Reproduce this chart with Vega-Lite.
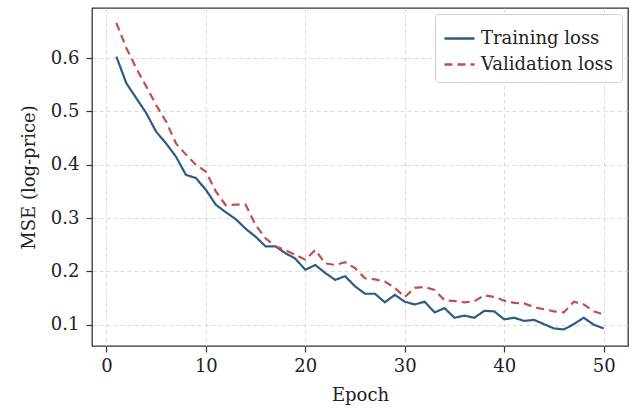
{
  "$schema": "https://vega.github.io/schema/vega-lite/v6.json",
  "width": 536,
  "height": 338,
  "autosize": "none",
  "padding": {"left": 92, "top": 8, "right": 8, "bottom": 62},
  "background": "white",
  "config": {
    "font": "DejaVu Serif",
    "view": {"stroke": "#333333", "strokeWidth": 1.3},
    "axis": {
      "labelFont": "DejaVu Serif",
      "titleFont": "DejaVu Serif",
      "labelFontSize": 18,
      "titleFontSize": 18,
      "titleFontWeight": "normal",
      "labelColor": "#222222",
      "titleColor": "#222222",
      "domain": false,
      "tickColor": "#333333",
      "tickSize": 6,
      "tickWidth": 1.2,
      "grid": true,
      "gridColor": "#d0d0d0",
      "gridDash": [4, 3],
      "gridWidth": 0.8
    },
    "legend": {
      "labelFont": "DejaVu Serif",
      "labelFontSize": 18,
      "labelColor": "#222222"
    }
  },
  "data": {
    "values": [
      {"epoch": 1, "Training loss": 0.603, "Validation loss": 0.666},
      {"epoch": 2, "Training loss": 0.553, "Validation loss": 0.619},
      {"epoch": 3, "Training loss": 0.525, "Validation loss": 0.581},
      {"epoch": 4, "Training loss": 0.497, "Validation loss": 0.547},
      {"epoch": 5, "Training loss": 0.462, "Validation loss": 0.512},
      {"epoch": 6, "Training loss": 0.440, "Validation loss": 0.481},
      {"epoch": 7, "Training loss": 0.415, "Validation loss": 0.440},
      {"epoch": 8, "Training loss": 0.381, "Validation loss": 0.419},
      {"epoch": 9, "Training loss": 0.375, "Validation loss": 0.400},
      {"epoch": 10, "Training loss": 0.353, "Validation loss": 0.387},
      {"epoch": 11, "Training loss": 0.325, "Validation loss": 0.350},
      {"epoch": 12, "Training loss": 0.311, "Validation loss": 0.324},
      {"epoch": 13, "Training loss": 0.298, "Validation loss": 0.325},
      {"epoch": 14, "Training loss": 0.280, "Validation loss": 0.325},
      {"epoch": 15, "Training loss": 0.265, "Validation loss": 0.287},
      {"epoch": 16, "Training loss": 0.247, "Validation loss": 0.262},
      {"epoch": 17, "Training loss": 0.247, "Validation loss": 0.247},
      {"epoch": 18, "Training loss": 0.234, "Validation loss": 0.240},
      {"epoch": 19, "Training loss": 0.224, "Validation loss": 0.231},
      {"epoch": 20, "Training loss": 0.203, "Validation loss": 0.222},
      {"epoch": 21, "Training loss": 0.212, "Validation loss": 0.240},
      {"epoch": 22, "Training loss": 0.197, "Validation loss": 0.215},
      {"epoch": 23, "Training loss": 0.184, "Validation loss": 0.212},
      {"epoch": 24, "Training loss": 0.191, "Validation loss": 0.217},
      {"epoch": 25, "Training loss": 0.172, "Validation loss": 0.206},
      {"epoch": 26, "Training loss": 0.158, "Validation loss": 0.187},
      {"epoch": 27, "Training loss": 0.158, "Validation loss": 0.185},
      {"epoch": 28, "Training loss": 0.142, "Validation loss": 0.181},
      {"epoch": 29, "Training loss": 0.156, "Validation loss": 0.169},
      {"epoch": 30, "Training loss": 0.143, "Validation loss": 0.152},
      {"epoch": 31, "Training loss": 0.138, "Validation loss": 0.169},
      {"epoch": 32, "Training loss": 0.143, "Validation loss": 0.171},
      {"epoch": 33, "Training loss": 0.123, "Validation loss": 0.165},
      {"epoch": 34, "Training loss": 0.131, "Validation loss": 0.146},
      {"epoch": 35, "Training loss": 0.113, "Validation loss": 0.144},
      {"epoch": 36, "Training loss": 0.117, "Validation loss": 0.142},
      {"epoch": 37, "Training loss": 0.113, "Validation loss": 0.144},
      {"epoch": 38, "Training loss": 0.126, "Validation loss": 0.155},
      {"epoch": 39, "Training loss": 0.125, "Validation loss": 0.152},
      {"epoch": 40, "Training loss": 0.110, "Validation loss": 0.145},
      {"epoch": 41, "Training loss": 0.113, "Validation loss": 0.141},
      {"epoch": 42, "Training loss": 0.107, "Validation loss": 0.140},
      {"epoch": 43, "Training loss": 0.109, "Validation loss": 0.133},
      {"epoch": 44, "Training loss": 0.101, "Validation loss": 0.129},
      {"epoch": 45, "Training loss": 0.093, "Validation loss": 0.125},
      {"epoch": 46, "Training loss": 0.091, "Validation loss": 0.123},
      {"epoch": 47, "Training loss": 0.101, "Validation loss": 0.143},
      {"epoch": 48, "Training loss": 0.113, "Validation loss": 0.138},
      {"epoch": 49, "Training loss": 0.100, "Validation loss": 0.125},
      {"epoch": 50, "Training loss": 0.093, "Validation loss": 0.119}
    ]
  },
  "transform": [
    {"fold": ["Training loss", "Validation loss"], "as": ["series", "mse"]}
  ],
  "mark": {"type": "line", "strokeWidth": 2.2, "clip": true},
  "encoding": {
    "x": {
      "field": "epoch",
      "type": "quantitative",
      "title": "Epoch",
      "scale": {"domain": [-1.45, 52.45], "nice": false, "zero": false},
      "axis": {"values": [0, 10, 20, 30, 40, 50], "format": "d", "labelPadding": 5, "titlePadding": 11}
    },
    "y": {
      "field": "mse",
      "type": "quantitative",
      "title": "MSE (log-price)",
      "scale": {"domain": [0.06, 0.694], "nice": false, "zero": false},
      "axis": {"values": [0.1, 0.2, 0.3, 0.4, 0.5, 0.6], "format": ".1f", "labelPadding": 7, "titlePadding": 12}
    },
    "color": {
      "field": "series",
      "type": "nominal",
      "scale": {"domain": ["Training loss", "Validation loss"], "range": ["#2e5a88", "#c44e4e"]},
      "legend": {
        "title": null,
        "orient": "top-right",
        "offset": 6,
        "fillColor": "white",
        "strokeColor": "#d0d0d0",
        "cornerRadius": 3,
        "padding": 8,
        "symbolType": "stroke",
        "symbolSize": 900,
        "symbolStrokeWidth": 2.4,
        "rowPadding": 0,
        "labelOffset": 5
      }
    },
    "strokeDash": {
      "field": "series",
      "type": "nominal",
      "scale": {"domain": ["Training loss", "Validation loss"], "range": [[1, 0], [8, 5]]},
      "legend": {
        "title": null,
        "orient": "top-right",
        "offset": 6,
        "fillColor": "white",
        "strokeColor": "#d0d0d0",
        "cornerRadius": 3,
        "padding": 8,
        "symbolType": "stroke",
        "symbolSize": 900,
        "symbolStrokeWidth": 2.4,
        "rowPadding": 0,
        "labelOffset": 5
      }
    }
  }
}
